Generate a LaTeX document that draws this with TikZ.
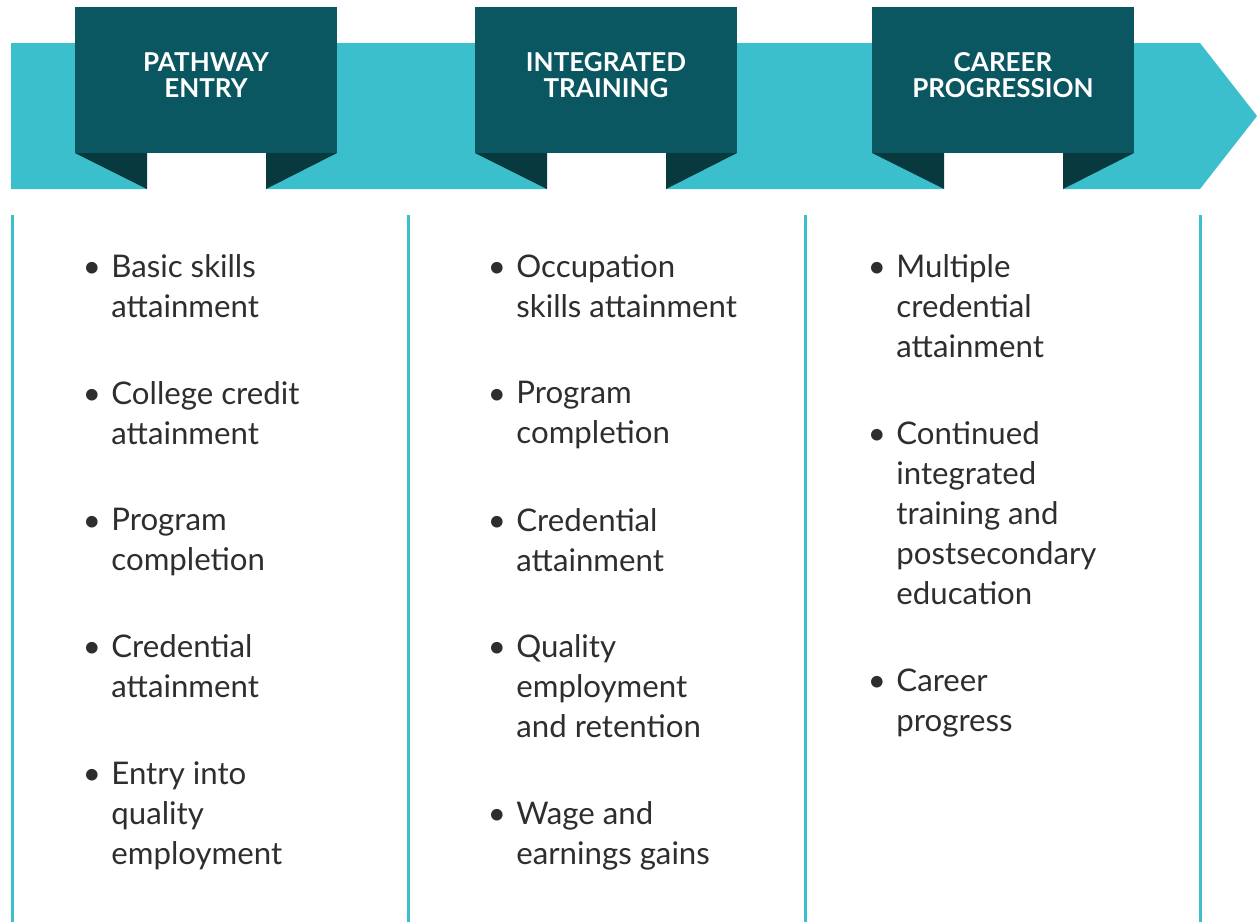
\documentclass[tikz,border=0pt]{standalone}
\usepackage{fontspec}
\setmainfont{Lato}
\usetikzlibrary{positioning}
\definecolor{bandteal}{HTML}{3CBFCD}
\definecolor{boxteal}{HTML}{0B5761}
\definecolor{folddark}{HTML}{08393F}
\definecolor{bodygray}{HTML}{2E2E2E}
\tikzset{
  header/.style={text=white, font=\fontsize{13}{13}\selectfont\bfseries, align=center, inner sep=0pt},
  item/.style={text=bodygray, font=\fontsize{15.6}{20}\selectfont, align=left, anchor=north west,
               inner sep=0pt, execute at begin node=\strut},
  dot/.style={text=bodygray, font=\fontsize{15.6}{20}\selectfont, anchor=base, inner sep=0pt},
  divider/.style={draw=bandteal, line width=1.5pt}
}
\begin{document}
\begin{tikzpicture}[x=0.5pt,y=-0.5pt]
\useasboundingbox (0,0) rectangle (1257,922);
% the arrow band
\fill[bandteal] (11,43) -- (1200,43) -- (1257,116) -- (1200,189) -- (11,189) -- cycle;
% the three ribbons
\foreach \L/\n/\t in {75/pe/{PATHWAY\\ENTRY},475/it/{INTEGRATED\\TRAINING},872/cp/{CAREER\\PROGRESSION}}{
  \fill[white] (\L+72,153) rectangle (\L+191,190);
  \fill[boxteal] (\L,7) rectangle (\L+262,153);
  \fill[folddark] (\L,153) -- (\L+72,153) -- (\L+72,189) -- cycle;
  \fill[folddark] (\L+191,153) -- (\L+262,153) -- (\L+191,189) -- cycle;
  \node[header] (hd\n) at (\L+131,75) {\t};
}
% column dividers
\foreach \x/\n in {12/a,408/b,805/c,1200/d}{
  \coordinate (top\n) at (\x,215);
  \coordinate (bot\n) at (\x,922);
  \draw[divider] (top\n) -- (bot\n);
}
% pathway entry
\foreach \y/\t/\n in {277/{Basic skills\\attainment}/pa,
                      404/{College credit\\attainment}/pb,
                      531/{Program\\completion}/pc,
                      657/{Credential\\attainment}/pd,
                      784/{Entry into\\quality\\employment}/pf}{
  \node[dot] (\n-dot) at (92,\y) {•};
  \node[item] (\n) at (111,\y-23) {\t};
}
% integrated training
\foreach \y/\t/\n in {277/{Occupation\\skills attainment}/ia,
                      404/{Program\\completion}/ib,
                      531/{Credential\\attainment}/ic,
                      657/{Quality\\employment\\and retention}/id,
                      824/{Wage and\\earnings gains}/ie}{
  \node[dot] (\n-dot) at (497,\y) {•};
  \node[item] (\n) at (516,\y-23) {\t};
}
% career progression
\foreach \y/\t/\n in {277/{Multiple\\credential\\attainment}/ca,
                      444/{Continued\\integrated\\training and\\postsecondary\\education}/cb,
                      691/{Career\\progress}/cc}{
  \node[dot] (\n-dot) at (877,\y) {•};
  \node[item] (\n) at (896,\y-23) {\t};
}
\end{tikzpicture}
\end{document}
